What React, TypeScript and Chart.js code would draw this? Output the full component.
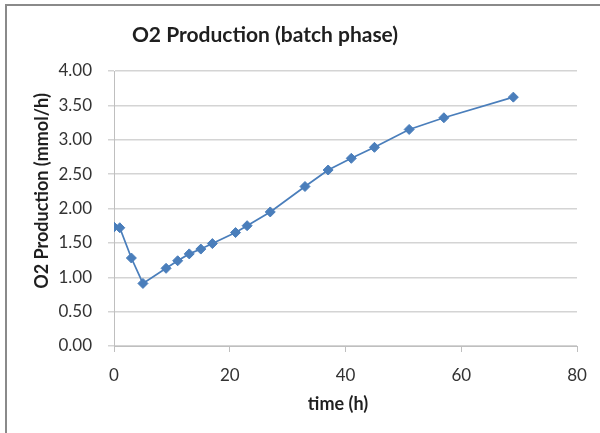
import React, { useEffect, useRef } from "react";
import { Chart, registerables } from "chart.js";

Chart.register(...registerables);

const timeH: number[] = [0, 1, 3, 5, 9, 11, 13, 15, 17, 21, 23, 27, 33, 37, 41, 45, 51, 57, 69];
const o2Production: number[] = [1.73, 1.72, 1.28, 0.91, 1.13, 1.24, 1.34, 1.41, 1.49, 1.65, 1.75, 1.95, 2.32, 2.56, 2.73, 2.89, 3.15, 3.32, 3.62];
const chartTitle = "O2 Production (batch phase)";
const xTitle = "time (h)";
const yTitle = "O2 Production (mmol/h)";

const FONT = "Lato, 'Open Sans', 'Liberation Sans', sans-serif";
const SERIES_COLOR = "#4a7ebb";

const titlesPlugin = {
  id: "excelTitles",
  afterDraw(chart: any) {
    const ctx = chart.ctx as CanvasRenderingContext2D;
    ctx.save();
    ctx.fillStyle = "#1f1f1f";
    ctx.textAlign = "center";
    ctx.textBaseline = "middle";
    ctx.font = `bold 21px ${FONT}`;
    ctx.fillText(chartTitle, 265, 35);
    ctx.font = `bold 18px ${FONT}`;
    ctx.fillText(xTitle, 338, 404);
    ctx.translate(42, 191);
    ctx.rotate(-Math.PI / 2);
    ctx.fillText(yTitle, 0, 0);
    ctx.restore();
  },
};

export default function App() {
  const canvasRef = useRef<HTMLCanvasElement | null>(null);

  useEffect(() => {
    if (!canvasRef.current) return;
    const chart = new Chart(canvasRef.current, {
      type: "line",
      data: {
        datasets: [
          {
            data: timeH.map((t, i) => ({ x: t, y: o2Production[i] })),
            borderColor: SERIES_COLOR,
            backgroundColor: SERIES_COLOR,
            borderWidth: 1.75,
            pointStyle: "rectRot",
            pointRadius: 5,
            pointBorderWidth: 1,
            tension: 0,
            fill: false,
          },
        ],
      },
      options: {
        animation: false,
        responsive: false,
        devicePixelRatio: 1,
        layout: { padding: { top: 71, right: 23, left: 0, bottom: 0 } },
        plugins: {
          legend: { display: false },
          title: { display: false },
          tooltip: { enabled: false },
        },
        scales: {
          x: {
            type: "linear",
            min: 0,
            max: 80,
            afterFit: (scale: any) => {
              scale.height = 87;
            },
            ticks: {
              stepSize: 20,
              color: "#333333",
              font: { family: FONT, size: 17 },
              padding: 13,
            },
            grid: {
              drawOnChartArea: false,
              drawTicks: true,
              tickLength: 6,
              color: "#bfbfbf",
              lineWidth: 1,
            },
            border: { color: "#bfbfbf", width: 1 },
          },
          y: {
            type: "linear",
            min: 0,
            max: 4,
            afterFit: (scale: any) => {
              scale.width = 114;
            },
            ticks: {
              stepSize: 0.5,
              color: "#333333",
              font: { family: FONT, size: 17 },
              padding: 16,
              callback: (v: any) => Number(v).toFixed(2),
            },
            grid: {
              drawOnChartArea: true,
              drawTicks: true,
              tickLength: 6,
              color: "#d4d4d4",
              lineWidth: 1.5,
            },
            border: { color: "#bfbfbf", width: 1 },
          },
        },
      },
      plugins: [titlesPlugin],
    });
    return () => chart.destroy();
  }, []);

  return (
    <div
      style={{
        position: "fixed",
        left: 0,
        top: 0,
        width: 600,
        height: 433,
        overflow: "hidden",
        background: "#ffffff",
      }}
    >
      <div
        style={{
          position: "absolute",
          left: 5,
          top: 4,
          width: 700,
          height: 600,
          borderTop: "2px solid #8a8a8a",
          borderLeft: "2px solid #8a8a8a",
        }}
      />
      <canvas
        ref={canvasRef}
        width={600}
        height={433}
        style={{ position: "absolute", left: 0, top: 0, width: 600, height: 433 }}
      />
    </div>
  );
}
